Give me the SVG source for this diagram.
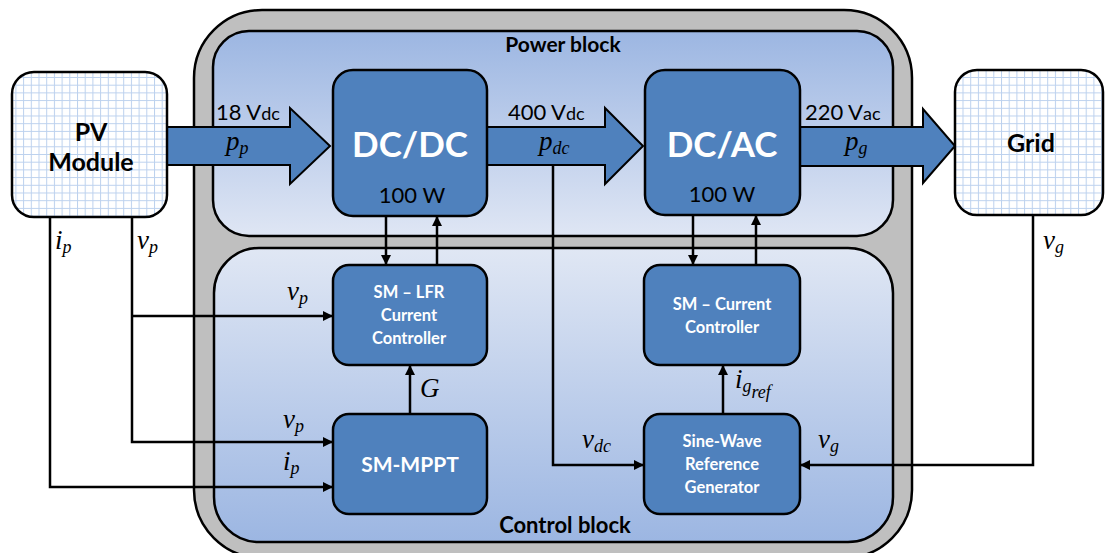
<svg xmlns="http://www.w3.org/2000/svg" width="1105" height="553" viewBox="0 0 1105 553">
<defs>
<linearGradient id="gPower" x1="0" y1="0" x2="0" y2="1">
<stop offset="0" stop-color="#9cb6e2"/>
<stop offset="1" stop-color="#dfe6f4"/>
</linearGradient>
<linearGradient id="gCtrl" x1="0" y1="0" x2="0" y2="1">
<stop offset="0" stop-color="#e0e7f4"/>
<stop offset="1" stop-color="#9cb6e2"/>
</linearGradient>
<pattern id="grid" width="7.7" height="7.7" patternUnits="userSpaceOnUse">
<rect width="7.7" height="7.7" fill="#ffffff"/>
<path d="M0 0.5H7.7M0.5 0V7.7" stroke="#bcd1ee" stroke-width="1" fill="none"/>
</pattern>
<marker id="ah" viewBox="0 0 10 10" refX="10" refY="5" markerWidth="10" markerHeight="10" markerUnits="userSpaceOnUse" orient="auto">
<path d="M0 0L10 5L0 10z" fill="#000"/>
</marker>
<style>
.blk{fill:#4f81bd;stroke:#000;stroke-width:2.5}
.ext{fill:url(#grid);stroke:#000;stroke-width:2.5}
.bar{fill:#4f81bd;stroke:#000;stroke-width:2}
.arr{fill:none;stroke:#000;stroke-width:2.5;marker-end:url(#ah)}
.big{font-family:Lato,"Open Sans",sans-serif;font-weight:bold;fill:#fff;font-size:35px;text-anchor:middle}
.wt{font-family:Lato,"Open Sans",sans-serif;font-weight:bold;fill:#fff;font-size:16.5px;text-anchor:middle}
.wl{font-size:21px}
.bt{font-family:Lato,"Open Sans",sans-serif;font-weight:bold;fill:#000;text-anchor:middle}
.nt{font-family:Lato,"Open Sans",sans-serif;fill:#000;font-size:22px}
.m{font-family:"Liberation Serif",serif;font-style:italic;fill:#000;font-size:27px}
.s{font-size:18px}
</style>
</defs>

<g id="outer-box">
<rect x="194" y="10" width="718" height="548" rx="68" ry="68" fill="#bfbfbf" stroke="#000" stroke-width="2.5"/>
</g>
<g id="power-block">
<rect x="213" y="31" width="680" height="205" rx="36" ry="36" fill="url(#gPower)" stroke="#000" stroke-width="2.5"/>
<text class="bt" x="563" y="52" font-size="21">Power block</text>
</g>
<g id="control-block">
<rect x="214" y="248" width="679" height="294" rx="45" ry="45" fill="url(#gCtrl)" stroke="#000" stroke-width="2.5"/>
<text class="bt" x="565" y="533" font-size="22">Control block</text>
</g>

<g id="power-arrows">
<path class="bar" d="M160 127H290V108L330 146L290 184V165H160Z"/>
<path class="bar" d="M487 127H605V108L643 146L605 184V165H487Z"/>
<path class="bar" d="M800 127H923V109L955 146L923 183V166H800Z"/>
</g>

<g id="pv-module">
<rect class="ext" x="12" y="72" width="155" height="145" rx="22" ry="22"/>
<text class="bt" x="91" y="141" font-size="25">PV</text>
<text class="bt" x="91" y="171" font-size="25">Module</text>
</g>
<g id="grid-node">
<rect class="ext" x="955" y="70" width="148" height="145" rx="22" ry="22"/>
<text class="bt" x="1031" y="152" font-size="25">Grid</text>
</g>
<g id="dcdc">
<rect class="blk" x="333" y="70" width="154" height="146" rx="20" ry="20"/>
<text class="big" x="410" y="157">DC/DC</text>
<text class="nt" x="412" y="203" text-anchor="middle">100 W</text>
</g>
<g id="dcac">
<rect class="blk" x="645" y="70" width="155" height="145" rx="20" ry="20"/>
<text class="big" x="722" y="157">DC/AC</text>
<text class="nt" x="722" y="202" text-anchor="middle">100 W</text>
</g>
<g id="sm-lfr">
<rect class="blk" x="333" y="265" width="154" height="100" rx="16" ry="16"/>
<text class="wt" x="409" y="298">SM – LFR</text>
<text class="wt" x="409" y="321">Current</text>
<text class="wt" x="409" y="344">Controller</text>
</g>
<g id="sm-mppt">
<rect class="blk" x="333" y="414" width="154" height="100" rx="16" ry="16"/>
<text class="wt wl" x="410" y="472">SM-MPPT</text>
</g>
<g id="sm-current">
<rect class="blk" x="644" y="265" width="156" height="100" rx="16" ry="16"/>
<text class="wt" x="722" y="310">SM – Current</text>
<text class="wt" x="722" y="333">Controller</text>
</g>
<g id="sine-wave">
<rect class="blk" x="644" y="414" width="156" height="100" rx="16" ry="16"/>
<text class="wt" x="722" y="447">Sine-Wave</text>
<text class="wt" x="722" y="470">Reference</text>
<text class="wt" x="722" y="493">Generator</text>
</g>

<g id="connectors">
<path class="arr" d="M386 216V265"/>
<path class="arr" d="M437 265V216"/>
<path class="arr" d="M693 215V265"/>
<path class="arr" d="M756 265V215"/>
<path class="arr" d="M410 414V365"/>
<path class="arr" d="M723 414V365"/>
<path class="arr" d="M553 165V465H644"/>
<path class="arr" d="M1033 215V465H800"/>
<path class="arr" d="M50 217V487H333"/>
<path class="arr" d="M132 217V442H333"/>
<path class="arr" d="M132 316H333"/>
</g>

<g id="labels">
<text class="nt" x="216" y="120">18 V<tspan class="s">dc</tspan></text>
<text class="nt" x="508" y="120">400 V<tspan class="s">dc</tspan></text>
<text class="nt" x="805" y="120">220 V<tspan class="s">ac</tspan></text>
<text class="m" x="226" y="150">p<tspan class="s" dy="4">p</tspan></text>
<text class="m" x="539" y="150">p<tspan class="s" dy="4">dc</tspan></text>
<text class="m" x="845" y="150">p<tspan class="s" dy="4">g</tspan></text>
<text class="m" x="55" y="249">i<tspan class="s" dy="4">p</tspan></text>
<text class="m" x="137" y="249">v<tspan class="s" dy="4">p</tspan></text>
<text class="m" x="1043" y="249">v<tspan class="s" dy="4">g</tspan></text>
<text class="m" x="287" y="300">v<tspan class="s" dy="4">p</tspan></text>
<text class="m" x="283" y="428">v<tspan class="s" dy="4">p</tspan></text>
<text class="m" x="283" y="470">i<tspan class="s" dy="4">p</tspan></text>
<text class="m" x="420" y="397">G</text>
<text class="m" x="735" y="388">i<tspan class="s" dy="4">g</tspan><tspan class="s" dy="6">ref</tspan></text>
<text class="m" x="582" y="448">v<tspan class="s" dy="4">dc</tspan></text>
<text class="m" x="818" y="448">v<tspan class="s" dy="4">g</tspan></text>
</g>
</svg>
